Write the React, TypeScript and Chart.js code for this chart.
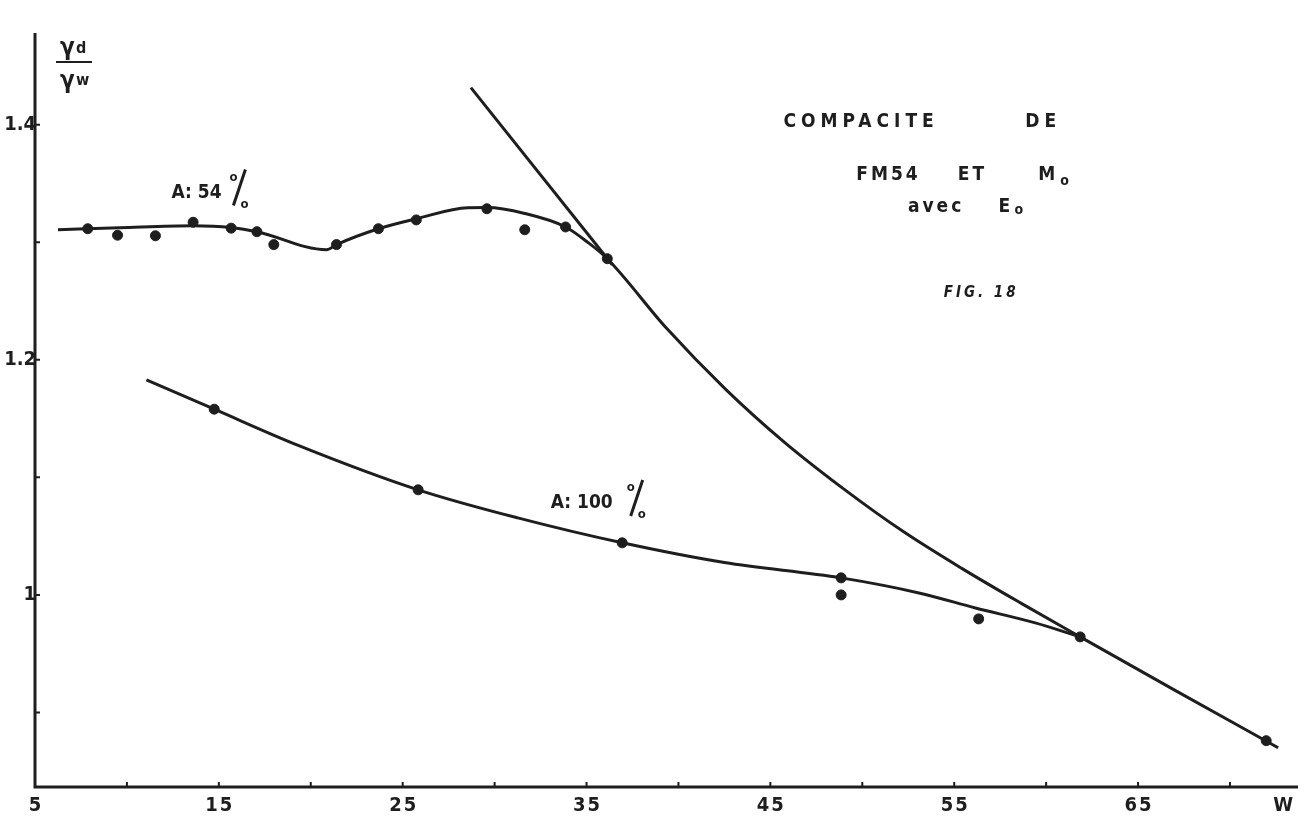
import React, { useEffect, useRef } from "react";
import { Chart, registerables } from "chart.js";
Chart.register(...registerables);

// ---- data (x = water content W, y = gamma_d / gamma_w) ----
const upperCurveX = [6.25, 9.6, 13.6, 15.67, 17.07, 20.86, 21.4, 23.68, 25.74, 28.55, 29.58, 31.64, 33.86, 35.03, 36.13, 39.33, 42.57, 45.77, 49.02, 52.21, 55.41, 58.65, 61.85, 66.99, 72.62];
const upperCurveY = [1.3106, 1.3123, 1.314, 1.3125, 1.309, 1.2936, 1.298, 1.3115, 1.32, 1.3294, 1.3295, 1.3245, 1.313, 1.3004, 1.286, 1.2272, 1.1749, 1.1298, 1.0898, 1.0541, 1.0226, 0.9928, 0.9643, 0.919, 0.87];

const lowerCurveX = [11.06, 14.75, 19.35, 25.84, 31.26, 36.94, 42.5, 48.85, 53.08, 56.16, 59.41, 61.85];
const lowerCurveY = [1.183, 1.158, 1.127, 1.0894, 1.0655, 1.0443, 1.0275, 1.0145, 1.0017, 0.9889, 0.9762, 0.9643];

const tangentX = [28.71, 36.4];
const tangentY = [1.4315, 1.2809];

const upperPointsX = [7.87, 9.49, 11.55, 13.6, 15.67, 17.07, 17.99, 21.4, 23.68, 25.74, 29.58, 31.64, 33.86, 36.13];
const upperPointsY = [1.3115, 1.306, 1.3055, 1.317, 1.312, 1.309, 1.298, 1.298, 1.3115, 1.319, 1.3285, 1.3106, 1.313, 1.286];

const lowerPointsX = [14.75, 25.84, 36.94, 48.85, 48.85, 56.33, 61.85, 71.97];
const lowerPointsY = [1.158, 1.0894, 1.0443, 1.0145, 1.0, 0.9796, 0.9643, 0.876];

const xTickValues = [10, 15, 20, 25, 30, 35, 40, 45, 50, 55, 60, 65, 70];
const xLabelValues = [5, 15, 25, 35, 45, 55, 65, 72.9];
const xLabelTexts = ["5", "15", "25", "35", "45", "55", "65", "W"];
const yTickValues = [0.9, 1.0, 1.1, 1.2, 1.3, 1.4];
const yLabelValues = [1.4, 1.2, 1.0];
const yLabelTexts = ["1.4", "1.2", "1"];

const X_MIN = 5;
const X_MAX = 73.7;
const Y_MIN = 0.8366;
const Y_MAX = 1.478;

const INK = "#1e1e1e";
const FONT = "'DejaVu Sans Condensed', 'DejaVu Sans', sans-serif";

const toXY = (xs: number[], ys: number[]) => xs.map((x, i) => ({ x, y: ys[i] }));

function drawPercent(ctx: CanvasRenderingContext2D, x0: number, base: number) {
  ctx.save();
  ctx.fillStyle = INK;
  ctx.strokeStyle = INK;
  ctx.lineWidth = 3;
  ctx.font = `bold 13px ${FONT}`;
  ctx.textBaseline = "alphabetic";
  ctx.textAlign = "left";
  (ctx as any).letterSpacing = "0px";
  ctx.fillText("o", x0 - 2, base - 17);
  ctx.beginPath();
  ctx.moveTo(x0 + 14, base - 28);
  ctx.lineTo(x0 + 2, base + 8);
  ctx.stroke();
  ctx.fillText("o", x0 + 9, base + 10);
  ctx.restore();
}

const decorPlugin = {
  id: "decor",
  afterDraw(chart: any) {
    const ctx: CanvasRenderingContext2D = chart.ctx;
    const xs = chart.scales.x;
    const ys = chart.scales.y;
    const { left, right, top, bottom } = chart.chartArea;
    const px = (v: number) => xs.getPixelForValue(v);
    const py = (v: number) => ys.getPixelForValue(v);
    ctx.save();
    ctx.strokeStyle = INK;
    ctx.fillStyle = INK;
    // axes
    ctx.lineWidth = 3;
    ctx.beginPath();
    ctx.moveTo(left, top);
    ctx.lineTo(left, bottom);
    ctx.lineTo(right, bottom);
    ctx.stroke();
    // ticks
    ctx.lineWidth = 2;
    ctx.beginPath();
    xTickValues.forEach((v) => {
      ctx.moveTo(px(v), bottom);
      ctx.lineTo(px(v), bottom - 5);
    });
    yTickValues.forEach((v) => {
      ctx.moveTo(left, py(v));
      ctx.lineTo(left + 5, py(v));
    });
    ctx.stroke();
    // tick labels
    ctx.font = `bold 20px ${FONT}`;
    (ctx as any).letterSpacing = "2px";
    ctx.textAlign = "center";
    ctx.textBaseline = "top";
    xLabelValues.forEach((v, i) => ctx.fillText(xLabelTexts[i], px(v) + 1, bottom + 9));
    (ctx as any).letterSpacing = "0px";
    ctx.textAlign = "right";
    ctx.textBaseline = "middle";
    yLabelValues.forEach((v, i) => ctx.fillText(yLabelTexts[i], left + 1, py(v)));
    // y axis title gamma_d / gamma_w
    ctx.textAlign = "left";
    ctx.textBaseline = "alphabetic";
    ctx.font = `bold 24px ${FONT}`;
    ctx.fillText("γ", left + 25, top + 22);
    ctx.fillText("γ", left + 25, top + 55);
    ctx.font = `bold 16px ${FONT}`;
    ctx.fillText("d", left + 41, top + 20);
    ctx.fillText("w", left + 41, top + 52);
    ctx.lineWidth = 2;
    ctx.beginPath();
    ctx.moveTo(left + 21, top + 29);
    ctx.lineTo(left + 57, top + 29);
    ctx.stroke();

    // curve labels
    ctx.font = `bold 19px ${FONT}`;
    ctx.textAlign = "left";
    ctx.fillText("A: 54", px(12.42), py(1.338));
    drawPercent(ctx, px(12.42) + 60, py(1.338));
    ctx.fillText("A: 100", px(33.05), py(1.074));
    drawPercent(ctx, px(33.05) + 78, py(1.074));

    // title block
    ctx.font = `bold 19px ${FONT}`;
    (ctx as any).letterSpacing = "5px";
    ctx.fillText("COMPACITE", px(45.71), py(1.398));
    ctx.fillText("DE", px(58.87), py(1.398));
    (ctx as any).letterSpacing = "3px";
    ctx.fillText("FM54", px(49.67), py(1.353));
    ctx.fillText("ET", px(55.19), py(1.353));
    ctx.fillText("M", px(59.57), py(1.353));
    ctx.fillText("avec", px(52.48), py(1.326));
    ctx.fillText("E", px(57.41), py(1.326));
    ctx.font = `bold 14px ${FONT}`;
    (ctx as any).letterSpacing = "0px";
    ctx.fillText("o", px(59.57) + 22, py(1.353) + 5);
    ctx.fillText("o", px(57.41) + 16, py(1.326) + 2);
    ctx.font = `italic bold 15px ${FONT}`;
    (ctx as any).letterSpacing = "3px";
    ctx.fillText("FIG. 18", px(54.43), py(1.2536));
    ctx.restore();
  },
};

export default function App() {
  const ref = useRef<HTMLCanvasElement | null>(null);
  useEffect(() => {
    document.body.style.margin = "0";
    document.body.style.background = "#ffffff";
    if (!ref.current) return;
    const lineBase = {
      showLine: true,
      borderColor: INK,
      borderWidth: 3,
      pointRadius: 0,
      fill: false,
      cubicInterpolationMode: "monotone" as const,
    };
    const chart = new Chart(ref.current, {
      type: "scatter",
      data: {
        datasets: [
          { ...lineBase, label: "A: 54 %", data: toXY(upperCurveX, upperCurveY) },
          { ...lineBase, label: "A: 100 %", data: toXY(lowerCurveX, lowerCurveY) },
          { ...lineBase, label: "tangente", data: toXY(tangentX, tangentY), cubicInterpolationMode: "default" as const, tension: 0 },
          {
            label: "mesures A: 54 %",
            data: toXY(upperPointsX, upperPointsY),
            pointRadius: 5,
            pointBackgroundColor: INK,
            pointBorderColor: INK,
            showLine: false,
          },
          {
            label: "mesures A: 100 %",
            data: toXY(lowerPointsX, lowerPointsY),
            pointRadius: 5,
            pointBackgroundColor: INK,
            pointBorderColor: INK,
            showLine: false,
          },
        ],
      },
      options: {
        animation: false,
        responsive: false,
        layout: { padding: { left: 35, top: 33, bottom: 36, right: 0 } },
        plugins: { legend: { display: false }, tooltip: { enabled: false } },
        scales: {
          x: { type: "linear", min: X_MIN, max: X_MAX, display: false },
          y: { type: "linear", min: Y_MIN, max: Y_MAX, display: false },
        },
      },
      plugins: [decorPlugin],
    });
    return () => chart.destroy();
  }, []);
  return (
    <div style={{ width: 1304, height: 823, background: "#fff" }}>
      <canvas ref={ref} width={1304} height={823} style={{ display: "block" }} />
    </div>
  );
}
